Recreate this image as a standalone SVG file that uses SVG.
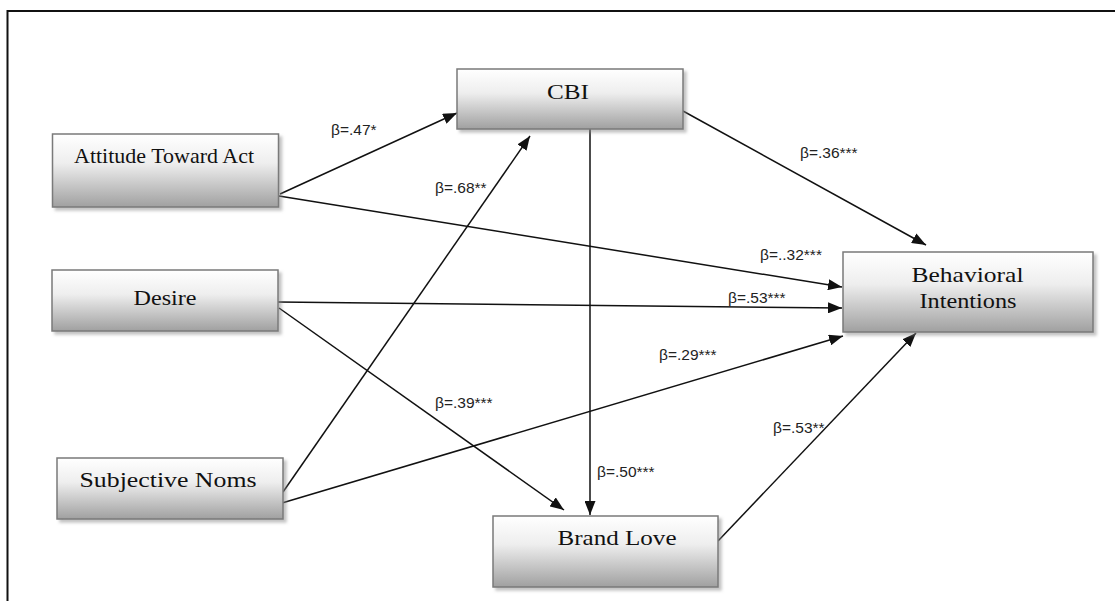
<svg xmlns="http://www.w3.org/2000/svg" width="1115" height="601" viewBox="0 0 1115 601">
<style>
.box{fill:url(#g);stroke:#7a7a7a;stroke-width:1.5;filter:url(#sh)}
.nt{font-family:"Liberation Serif",serif;font-size:22px;fill:#111;text-anchor:middle}
.lb{font-family:"Liberation Sans",sans-serif;font-size:15.5px;fill:#222}
.c{stroke:#111;stroke-width:1.5;fill:none;marker-end:url(#a)}
</style>
<defs>
<linearGradient id="g" x1="0" y1="0" x2="0" y2="1">
<stop offset="0" stop-color="#ffffff"/>
<stop offset="0.4" stop-color="#eeeeee"/>
<stop offset="1" stop-color="#a0a0a0"/>
</linearGradient>
<filter id="sh" x="-10%" y="-10%" width="130%" height="140%">
<feDropShadow dx="3" dy="3" stdDeviation="1.5" flood-color="#888" flood-opacity="0.5"/>
</filter>
<marker id="a" viewBox="0 0 14 11" refX="14" refY="5.5" markerWidth="14" markerHeight="11" markerUnits="userSpaceOnUse" orient="auto">
<path d="M0,0 L14,5.5 L0,11 Z" fill="#111"/>
</marker>
</defs>
<rect width="1115" height="601" fill="#fff"/>
<path d="M7.5,601 V11 H1115" stroke="#111" stroke-width="2" fill="none"/>
<g id="connectors">
<line class="c" x1="280" y1="194" x2="457" y2="113"/>
<line class="c" x1="283" y1="492" x2="530" y2="136"/>
<line class="c" x1="282" y1="503" x2="843" y2="336"/>
<line class="c" x1="279" y1="196" x2="842" y2="287"/>
<line class="c" x1="278" y1="302" x2="842" y2="308"/>
<line class="c" x1="683" y1="111" x2="926" y2="245"/>
<line class="c" x1="590" y1="129" x2="590" y2="515"/>
<line class="c" x1="279" y1="308" x2="564" y2="510"/>
<line class="c" x1="718" y1="541" x2="916" y2="333"/>
<text class="lb" x="331" y="135">β=.47*</text>
<text class="lb" x="435" y="193">β=.68**</text>
<text class="lb" x="800" y="158">β=.36***</text>
<text class="lb" x="760" y="260">β=..32***</text>
<text class="lb" x="728" y="303">β=.53***</text>
<text class="lb" x="659" y="360">β=.29***</text>
<text class="lb" x="435" y="408">β=.39***</text>
<text class="lb" x="597" y="477">β=.50***</text>
<text class="lb" x="773" y="433">β=.53**</text>
</g>
<g id="attitude">
<rect class="box" x="52.5" y="134" width="226" height="73"/>
<text class="nt" x="164" y="163" textLength="180" lengthAdjust="spacingAndGlyphs">Attitude Toward Act</text>
</g>
<g id="cbi">
<rect class="box" x="457" y="69" width="226" height="60"/>
<text class="nt" x="568" y="99" textLength="42" lengthAdjust="spacingAndGlyphs">CBI</text>
</g>
<g id="desire">
<rect class="box" x="52" y="270" width="226" height="61"/>
<text class="nt" x="165" y="305" textLength="63" lengthAdjust="spacingAndGlyphs">Desire</text>
</g>
<g id="subjective">
<rect class="box" x="57" y="458" width="226" height="61"/>
<text class="nt" x="168" y="487" textLength="177" lengthAdjust="spacingAndGlyphs">Subjective Noms</text>
</g>
<g id="behavioral">
<rect class="box" x="843" y="252" width="250" height="80"/>
<text class="nt" x="967.5" y="282" textLength="112" lengthAdjust="spacingAndGlyphs">Behavioral</text>
<text class="nt" x="968" y="308" textLength="97" lengthAdjust="spacingAndGlyphs">Intentions</text>
</g>
<g id="brandlove">
<rect class="box" x="493" y="516" width="225" height="71"/>
<text class="nt" x="617" y="545" textLength="119" lengthAdjust="spacingAndGlyphs">Brand Love</text>
</g>
</svg>
